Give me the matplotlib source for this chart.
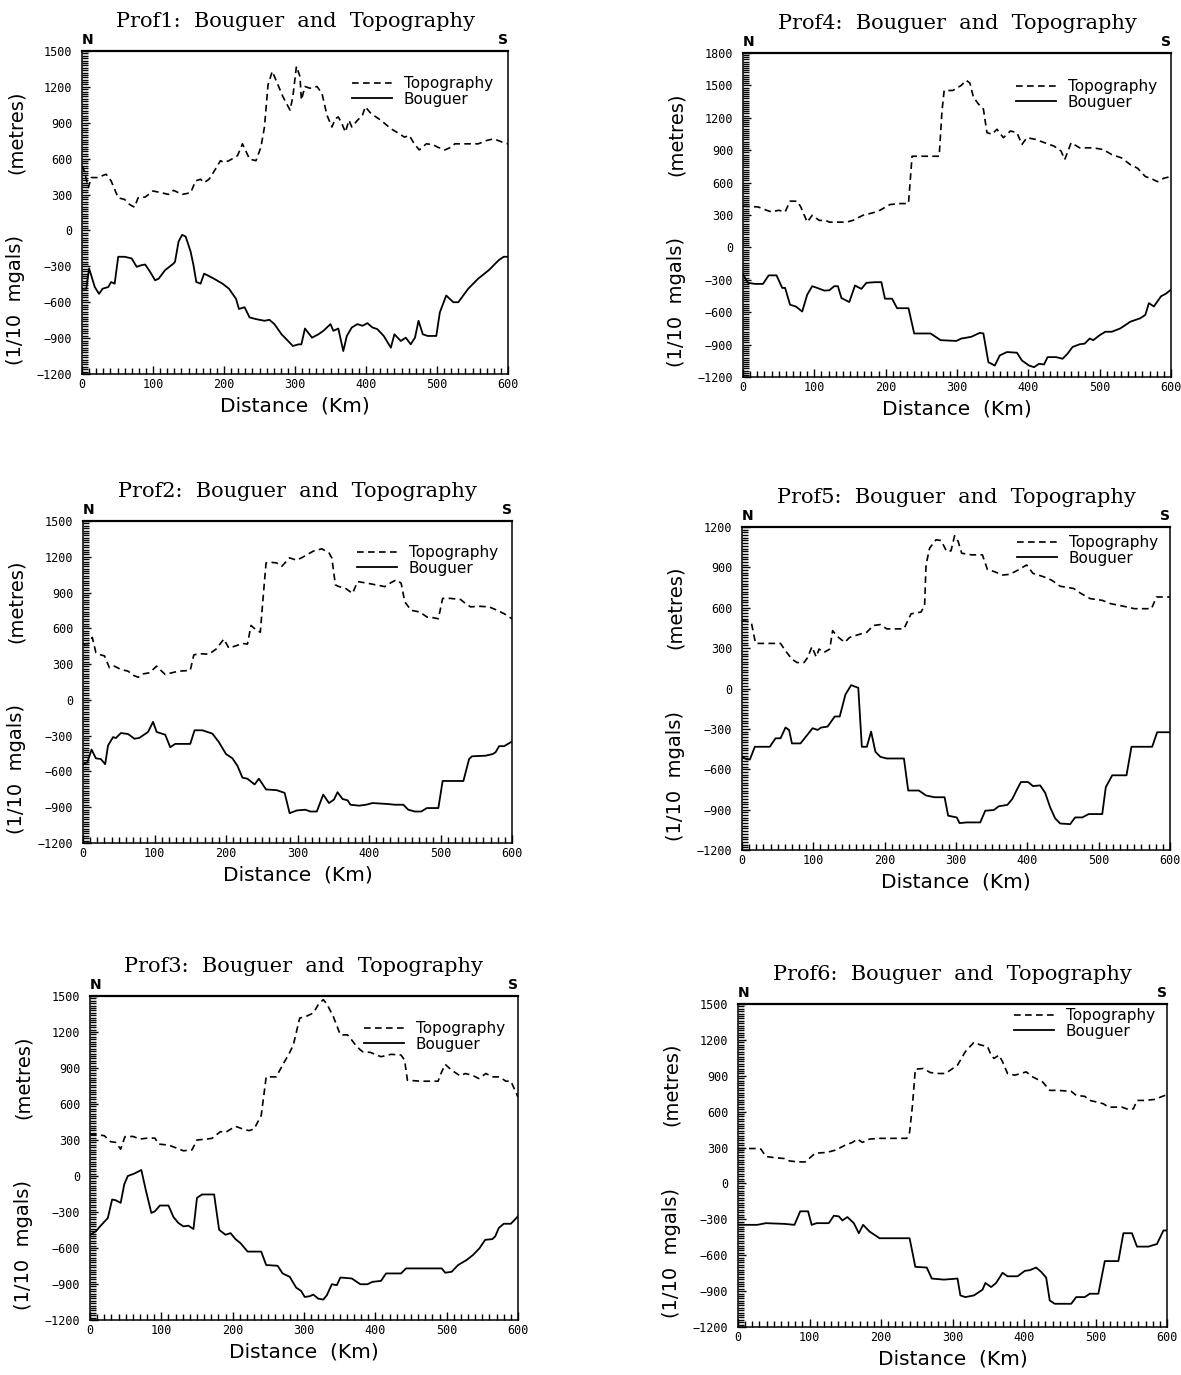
import numpy as np
import matplotlib
matplotlib.use("Agg")
import matplotlib.pyplot as plt
from matplotlib.ticker import MultipleLocator

# ---------------- data ----------------
# Prof1
p1_topo_x = [0, 3, 9, 13, 22, 34, 41, 51, 60, 67, 74, 79, 89, 100, 112, 122, 129, 141, 153, 160,
             167, 172, 179, 188, 195, 200, 207, 219, 226, 236, 245, 252, 257, 262, 268, 274, 283,
             293, 297, 302, 307, 309, 314, 321, 331, 338, 345, 352, 357, 361, 366, 371, 376, 380,
             388, 395, 399, 407, 421, 435, 447, 454, 461, 468, 475, 485, 494, 501, 511, 520, 525,
             539, 558, 570, 580, 592, 600]
p1_topo_y = [541, 500, 358, 442, 442, 470, 414, 273, 259, 217, 194, 273, 279, 330, 315, 301, 335,
             301, 315, 414, 428, 400, 428, 513, 583, 569, 583, 625, 724, 597, 583, 696, 865, 1217,
             1330, 1245, 1118, 1006, 1118, 1372, 1287, 1090, 1203, 1189, 1203, 1146, 963, 865, 935,
             949, 893, 822, 921, 865, 921, 963, 1034, 977, 921, 851, 808, 780, 794, 724, 673, 724,
             718, 696, 673, 696, 724, 724, 724, 752, 766, 738, 724]
p1_boug_x = [0, 6, 10, 18, 24, 29, 37, 41, 46, 51, 60, 70, 77, 84, 89, 96, 103, 108, 117, 129, 131,
             136, 141, 146, 153, 157, 161, 167, 172, 184, 198, 207, 217, 221, 229, 236, 245, 257,
             264, 271, 281, 288, 297, 305, 309, 314, 324, 333, 340, 350, 354, 361, 368, 373, 380,
             388, 395, 402, 409, 416, 425, 435, 440, 449, 456, 463, 469, 474, 480, 487, 499, 504,
             513, 523, 530, 544, 558, 573, 587, 594, 600]
p1_boug_y = [-487, -487, -318, -473, -530, -487, -473, -431, -445, -220, -220, -234, -304, -290,
             -285, -347, -417, -403, -332, -276, -262, -93, -37, -51, -177, -290, -431, -445, -361,
             -397, -445, -487, -572, -656, -642, -727, -741, -755, -747, -783, -868, -910, -966,
             -952, -952, -820, -896, -868, -839, -783, -839, -820, -1008, -882, -811, -783, -797,
             -775, -811, -825, -882, -980, -868, -924, -896, -952, -896, -755, -868, -882, -882,
             -685, -544, -600, -600, -487, -403, -332, -248, -220, -220]

# Prof2
p2_topo_x = [0, 8, 13, 18, 25, 30, 37, 44, 53, 63, 70, 77, 84, 93, 103, 110, 115, 124, 134, 150,
             155, 162, 176, 186, 197, 204, 214, 223, 230, 235, 242, 248, 252, 256, 263, 271, 278,
             289, 299, 308, 322, 334, 344, 348, 353, 358, 367, 377, 384, 398, 410, 422, 431, 438,
             445, 450, 459, 471, 481, 490, 497, 503, 514, 528, 535, 542, 554, 568, 577, 589, 600]
p2_topo_y = [468, 473, 524, 397, 377, 369, 269, 283, 255, 241, 207, 190, 218, 227, 283, 241, 213,
             227, 241, 247, 377, 388, 383, 425, 510, 434, 454, 473, 468, 624, 587, 567, 865, 1148,
             1154, 1148, 1120, 1191, 1171, 1199, 1247, 1267, 1233, 1191, 964, 950, 936, 893, 992,
             978, 964, 950, 984, 1006, 978, 822, 751, 737, 695, 689, 680, 851, 851, 842, 808, 780,
             785, 780, 757, 723, 680]
p2_boug_x = [0, 6, 12, 18, 25, 31, 35, 42, 46, 53, 63, 72, 79, 91, 98, 103, 115, 122, 129, 141, 150,
             156, 167, 181, 190, 200, 209, 216, 223, 230, 240, 246, 256, 271, 282, 289, 299, 311,
             318, 327, 336, 344, 351, 356, 363, 370, 374, 386, 396, 405, 426, 436, 448, 455, 464,
             473, 481, 497, 503, 515, 532, 540, 544, 563, 573, 577, 582, 589, 600]
p2_boug_y = [-539, -524, -417, -490, -496, -539, -383, -312, -320, -278, -286, -326, -318, -269,
             -184, -269, -292, -397, -369, -369, -369, -255, -255, -283, -354, -454, -490, -553,
             -652, -661, -709, -661, -751, -757, -780, -950, -927, -921, -936, -936, -794, -865,
             -836, -774, -831, -842, -879, -887, -879, -865, -873, -879, -879, -921, -936, -936,
             -907, -907, -680, -680, -680, -496, -473, -468, -454, -439, -388, -388, -349]

# Prof3
p3_topo_x = [0, 20, 29, 36, 43, 49, 60, 70, 81, 91, 96, 110, 119, 131, 143, 150, 164, 171, 183, 190,
             204, 214, 223, 230, 240, 247, 261, 270, 280, 285, 294, 303, 313, 320, 327, 332, 341,
             351, 361, 365, 374, 382, 393, 408, 422, 436, 441, 445, 464, 488, 493, 498, 507, 519,
             526, 536, 545, 555, 564, 574, 583, 590, 600]
p3_topo_y = [350, 336, 286, 280, 224, 328, 330, 308, 316, 316, 266, 258, 238, 210, 218, 300, 308,
             314, 370, 364, 414, 392, 378, 392, 504, 826, 826, 924, 1030, 1092, 1316, 1330, 1358,
             1428, 1470, 1434, 1330, 1176, 1176, 1148, 1078, 1036, 1030, 994, 1014, 1008, 966, 798,
             790, 790, 868, 930, 882, 834, 854, 840, 812, 854, 826, 826, 790, 790, 658]
p3_boug_x = [0, 8, 15, 25, 31, 36, 43, 48, 53, 62, 72, 78, 86, 91, 98, 110, 117, 124, 131, 138, 145,
             150, 157, 174, 181, 190, 197, 204, 211, 221, 240, 247, 263, 270, 280, 289, 296, 301,
             308, 313, 320, 327, 332, 339, 346, 351, 367, 379, 389, 396, 408, 415, 436, 443, 464,
             493, 498, 507, 516, 528, 537, 546, 554, 564, 568, 573, 580, 590, 600]
p3_boug_y = [-490, -462, -414, -350, -196, -202, -224, -70, 0, 20, 50, -112, -308, -294, -246, -246,
             -342, -392, -420, -414, -442, -182, -154, -154, -448, -490, -476, -526, -560, -630,
             -630, -742, -748, -812, -840, -930, -958, -1008, -1002, -988, -1022, -1030, -994, -902,
             -910, -846, -854, -902, -902, -882, -874, -812, -812, -770, -770, -770, -806, -798,
             -742, -700, -658, -602, -532, -526, -504, -434, -398, -398, -336]

# Prof4
p4_topo_x = [0, 21, 33, 40, 50, 59, 66, 76, 81, 90, 97, 107, 116, 121, 145, 154, 168, 183, 192, 206,
             221, 232, 237, 244, 275, 279, 282, 294, 306, 313, 318, 323, 330, 337, 342, 349, 356,
             365, 375, 384, 391, 398, 410, 427, 436, 446, 451, 460, 472, 481, 491, 505, 517, 531,
             543, 553, 564, 571, 581, 590, 600]
p4_topo_y = [381, 375, 344, 328, 344, 328, 428, 428, 375, 234, 297, 250, 250, 234, 234, 250, 297,
             322, 344, 397, 406, 406, 844, 844, 844, 1266, 1453, 1453, 1500, 1547, 1522, 1391, 1328,
             1281, 1063, 1047, 1094, 1016, 1078, 1063, 953, 1016, 1000, 959, 938, 891, 813, 969,
             922, 922, 922, 906, 859, 828, 766, 734, 656, 641, 609, 641, 656]
p4_boug_x = [0, 7, 17, 28, 36, 47, 55, 59, 66, 74, 83, 90, 97, 104, 114, 121, 128, 133, 138, 149,
             157, 166, 173, 185, 194, 199, 209, 216, 232, 240, 263, 277, 299, 306, 320, 332, 337,
             344, 353, 360, 370, 384, 391, 401, 408, 415, 422, 427, 439, 448, 455, 462, 472, 479,
             486, 491, 500, 508, 517, 529, 543, 557, 564, 569, 576, 586, 593, 600]
p4_boug_y = [-250, -328, -338, -338, -259, -259, -375, -375, -531, -547, -594, -438, -359, -375,
             -400, -397, -359, -359, -469, -506, -353, -384, -328, -322, -322, -475, -475, -563,
             -563, -797, -797, -859, -866, -844, -828, -791, -797, -1063, -1094, -1000, -969, -975,
             -1047, -1094, -1109, -1078, -1084, -1016, -1016, -1031, -984, -922, -897, -891, -844,
             -859, -813, -781, -781, -750, -688, -656, -625, -516, -547, -453, -428, -391]

# Prof5
p5_topo_x = [0, 13, 19, 28, 54, 61, 70, 77, 87, 92, 98, 104, 108, 115, 123, 127, 134, 144, 151, 163,
             175, 184, 194, 203, 218, 227, 237, 251, 256, 258, 263, 272, 279, 287, 293, 298, 303,
             308, 322, 337, 344, 354, 365, 375, 387, 399, 408, 423, 434, 446, 465, 474, 488, 505,
             517, 536, 550, 574, 581, 600]
p5_topo_y = [505, 493, 335, 335, 335, 280, 218, 193, 193, 230, 310, 235, 293, 268, 293, 430, 385,
             343, 380, 400, 418, 468, 475, 443, 443, 443, 555, 568, 618, 918, 1043, 1105, 1100,
             1018, 1023, 1135, 1093, 1005, 993, 993, 885, 868, 843, 848, 880, 918, 855, 830, 805,
             760, 743, 710, 668, 655, 630, 610, 593, 593, 680, 680]
p5_boug_x = [0, 6, 11, 18, 28, 39, 47, 54, 61, 66, 70, 82, 99, 106, 111, 120, 130, 137, 145, 153,
             163, 168, 175, 181, 187, 194, 203, 227, 233, 248, 258, 270, 284, 289, 301, 305, 315,
             334, 341, 353, 360, 372, 379, 386, 391, 401, 408, 418, 425, 432, 439, 446, 460, 467,
             477, 486, 505, 510, 519, 539, 546, 575, 582, 600]
p5_boug_y = [-508, -525, -528, -433, -433, -433, -370, -370, -290, -308, -408, -408, -295, -308,
             -290, -283, -208, -208, -45, 25, 5, -433, -433, -320, -470, -508, -520, -520, -758,
             -758, -795, -808, -808, -945, -958, -1000, -995, -995, -908, -903, -875, -865, -820,
             -745, -695, -695, -725, -720, -775, -883, -965, -1003, -1008, -958, -958, -933, -933,
             -733, -645, -645, -433, -433, -325, -325]

# Prof6
p6_topo_x = [0, 27, 32, 39, 51, 65, 72, 84, 94, 101, 108, 124, 136, 150, 160, 167, 174, 184, 198,
             217, 236, 240, 244, 248, 259, 269, 281, 290, 297, 307, 318, 330, 339, 349, 354, 358,
             365, 370, 377, 387, 396, 403, 412, 426, 436, 447, 466, 473, 485, 492, 502, 511, 518,
             537, 546, 553, 558, 569, 584, 591, 600]
p6_topo_y = [292, 292, 287, 225, 216, 208, 188, 180, 180, 216, 253, 259, 278, 320, 343, 371, 343,
             371, 377, 377, 377, 427, 652, 955, 961, 927, 919, 919, 947, 989, 1102, 1180, 1158,
             1144, 1073, 1045, 1073, 1017, 919, 905, 919, 933, 891, 849, 778, 778, 770, 736, 728,
             694, 680, 666, 638, 638, 618, 624, 694, 694, 703, 722, 742]
p6_boug_x = [0, 27, 39, 65, 79, 87, 98, 103, 110, 127, 134, 141, 146, 153, 162, 169, 175, 184, 193,
             198, 212, 240, 248, 264, 271, 288, 307, 311, 318, 330, 342, 346, 354, 361, 370, 377,
             391, 401, 408, 417, 424, 431, 436, 443, 452, 466, 473, 485, 492, 504, 513, 532, 539,
             551, 558, 574, 586, 595, 600]
p6_boug_y = [-346, -346, -332, -338, -346, -233, -233, -346, -332, -332, -270, -275, -309, -281,
             -332, -416, -346, -402, -438, -458, -458, -458, -697, -703, -795, -804, -795, -936,
             -950, -936, -888, -832, -866, -832, -747, -776, -776, -731, -725, -703, -739, -787,
             -978, -1006, -1006, -1006, -950, -950, -922, -922, -649, -649, -416, -416, -528, -528,
             -506, -393, -393]

names = ["Prof1", "Prof2", "Prof3", "Prof4", "Prof5", "Prof6"]
topo_x = [p1_topo_x, p2_topo_x, p3_topo_x, p4_topo_x, p5_topo_x, p6_topo_x]
topo_y = [p1_topo_y, p2_topo_y, p3_topo_y, p4_topo_y, p5_topo_y, p6_topo_y]
boug_x = [p1_boug_x, p2_boug_x, p3_boug_x, p4_boug_x, p5_boug_x, p6_boug_x]
boug_y = [p1_boug_y, p2_boug_y, p3_boug_y, p4_boug_y, p5_boug_y, p6_boug_y]
y_tops = [1500, 1500, 1500, 1800, 1200, 1500]

# ---------------- layout (pixels in the 1181x1375 page) ----------------
W, H = 1181, 1375
# left, right, top, bottom of each plot frame
boxes = [(82, 508, 51, 374),
         (83, 512, 521, 843),
         (90, 518, 996, 1320),
         (743, 1171, 53, 377),
         (742, 1170, 527, 850),
         (738, 1167, 1004, 1327)]
# legend offsets from the top right corner (px)
leg_off = [(15, 25), (14, 24), (13, 25), (14, 26), (12, 8), (12, 4)]

fig = plt.figure(figsize=(W / 100, H / 100), dpi=100)
fig.patch.set_facecolor("white")

for i in range(6):
    l, r, t, b = boxes[i]
    ax = fig.add_axes([l / W, 1 - b / H, (r - l) / W, (b - t) / H])
    ax.plot(topo_x[i], topo_y[i], color="black", lw=1.2, ls=(0, (4, 2.6)), label="Topography")
    ax.plot(boug_x[i], boug_y[i], color="black", lw=1.3, ls="-", label="Bouguer")
    ax.set_xlim(0, 600)
    ax.set_ylim(-1200, y_tops[i])
    ax.xaxis.set_major_locator(MultipleLocator(100))
    ax.xaxis.set_minor_locator(MultipleLocator(10))
    ax.yaxis.set_major_locator(MultipleLocator(300))
    ax.yaxis.set_minor_locator(MultipleLocator(20))
    ax.tick_params(which="both", direction="in", top=False, right=False, width=1.0,
                   labelsize=8.5, colors="black")
    ax.tick_params(which="major", length=6)
    ax.tick_params(which="minor", length=4)
    ax.tick_params(axis="x", pad=3)
    ax.tick_params(axis="y", pad=7)
    for lab in ax.get_xticklabels() + ax.get_yticklabels():
        lab.set_family("DejaVu Sans Mono")
    for s in ["left", "right", "bottom"]:
        ax.spines[s].set_linewidth(1.1)
    ax.spines["top"].set_linewidth(1.6)

    ax.set_xlabel("Distance  (Km)", fontsize=14.5, labelpad=4)
    ax.text(-0.155, 0.75, "(metres)", transform=ax.transAxes, rotation=90,
            ha="center", va="center", fontsize=14)
    ax.text(-0.155, 0.23, "(1/10  mgals)", transform=ax.transAxes, rotation=90,
            ha="center", va="center", fontsize=14)
    ax.text(0.0, 1.012, "N", transform=ax.transAxes, ha="left", va="bottom",
            fontsize=10, fontweight="bold")
    ax.text(1.0, 1.012, "S", transform=ax.transAxes, ha="right", va="bottom",
            fontsize=10, fontweight="bold")
    ax.set_title(names[i] + ":  Bouguer  and  Topography", family="DejaVu Serif",
                 fontsize=15, pad=17)

    dx, dy = leg_off[i]
    ax.legend(loc="upper right", frameon=False, fontsize=11,
              bbox_to_anchor=(1 - dx / (r - l), 1 - dy / (b - t)),
              borderaxespad=0, borderpad=0, handlelength=2.6, handletextpad=0.8,
              labelspacing=0.05)

fig.savefig("out.png", dpi=100, facecolor="white")
